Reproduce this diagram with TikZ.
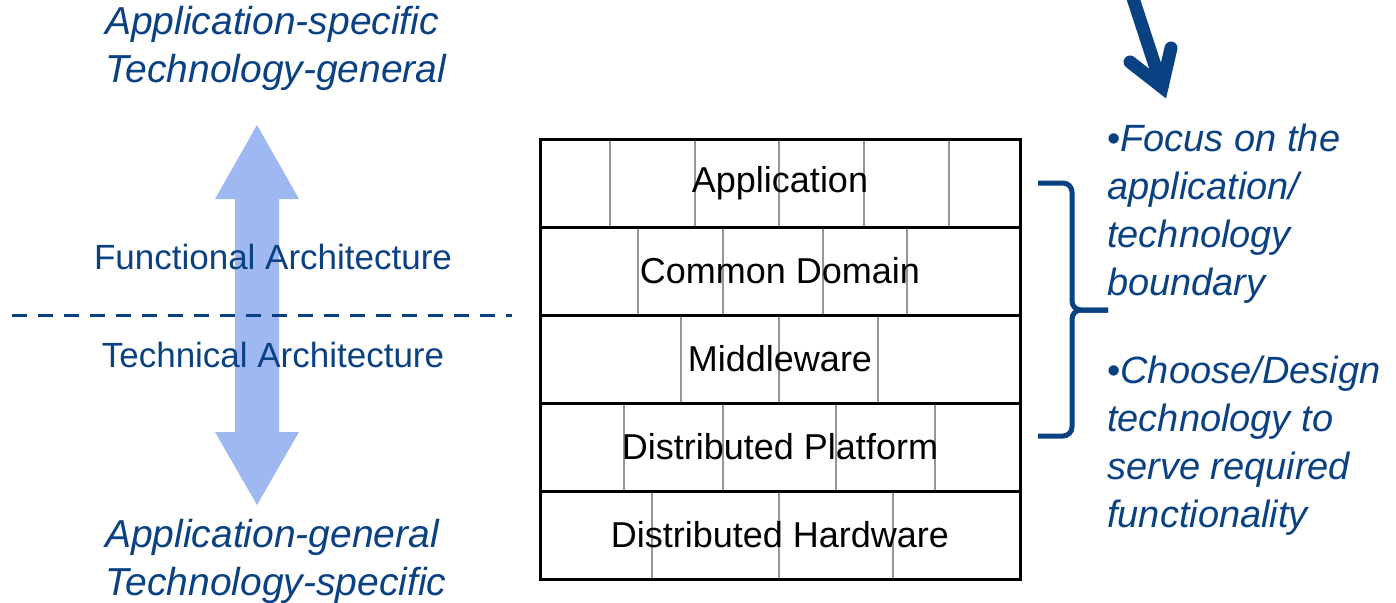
\documentclass[tikz,border=0pt]{standalone}
\usepackage{fontspec}
\setmainfont{Liberation Sans}
\usetikzlibrary{positioning,backgrounds}
\definecolor{archBlue}{RGB}{10,65,130}
\definecolor{archLightBlue}{RGB}{160,184,242}
\definecolor{brickGray}{RGB}{150,150,150}

\begin{document}
\begin{tikzpicture}[x=1pt,y=-1pt,
  layer/.style={draw,line width=3pt,minimum width=480pt,minimum height=88pt,outer sep=0pt,inner sep=0pt,font=\fontsize{36}{36}\selectfont},
  brick/.style={draw=brickGray,line width=2.5pt},
  corner/.style={text=archBlue,inner sep=0pt,align=left,anchor=base west,font=\fontsize{39}{48}\selectfont\itshape},
  arch/.style={text=archBlue,inner sep=0pt,anchor=base,font=\fontsize{35}{35}\selectfont},
  note/.style={text=archBlue,inner sep=0pt,align=left,anchor=base west,font=\fontsize{38}{48}\selectfont\itshape},
  pointer/.style={draw=archBlue,line width=13pt,line cap=round,line join=miter}
]
  \useasboundingbox (0,0) rectangle (1396,602);

  % left side
  \fill[archLightBlue] (257,125) -- (299,199) -- (279,199) -- (279,432) -- (299,432)
    -- (257,505) -- (215,432) -- (235,432) -- (235,199) -- (215,199) -- cycle;
  \node[corner] (top) at (105,82) {Application-specific\\Technology-general};
  \node[corner] (bottom) at (105,595) {Application-general\\Technology-specific};
  \node[arch] (func) at (273,269) {Functional Architecture};
  \node[arch] (tech) at (273,367) {Technical Architecture};
  \coordinate (sepL) at (12,315);
  \coordinate (sepR) at (512,315);
  \draw[archBlue,line width=3pt,dash pattern=on 15pt off 11pt] (sepL) -- (sepR);

  % the wall
  \node[layer] (app) at (780,183) {Application};
  \node[layer,below=0pt of app] (dom) {Common Domain};
  \node[layer,below=0pt of dom] (mid) {Middleware};
  \node[layer,below=0pt of mid] (plat) {Distributed Platform};
  \node[layer,below=0pt of plat] (hw) {Distributed Hardware};
  \begin{scope}[on background layer]
    \foreach \x in {70,155,239,324,409}
      \draw[brick] ([xshift=\x]app.north west) -- ([xshift=\x]app.south west);
    \foreach \x in {98,183,283,367}
      \draw[brick] ([xshift=\x]dom.north west) -- ([xshift=\x]dom.south west);
    \foreach \x in {141,239,338}
      \draw[brick] ([xshift=\x]mid.north west) -- ([xshift=\x]mid.south west);
    \foreach \x in {84,183,296,395}
      \draw[brick] ([xshift=\x]plat.north west) -- ([xshift=\x]plat.south west);
    \foreach \x in {112,239,353}
      \draw[brick] ([xshift=\x]hw.north west) -- ([xshift=\x]hw.south west);
  \end{scope}

  % right side
  \draw[archBlue,line width=5pt,rounded corners=9pt] (1038,183) -- (1072,183) -- (1072,310) -- (1108,310);
  \draw[archBlue,line width=5pt,rounded corners=9pt] (1038,436) -- (1072,436) -- (1072,310) -- (1108,310);
  \node[note] (focus) at (1107,295) {{\upshape\textbullet}Focus on the\\application/\\technology\\boundary};
  \node[note] (choose) at (1107,527) {{\upshape\textbullet}Choose/Design\\technology to\\serve required\\functionality};
  \coordinate (pointerStart) at (1129,-14);
  \coordinate (pointerTip) at (1162,87);
  \draw[pointer] (pointerStart) -- (pointerTip);
  \draw[pointer] (1130,62) -- (pointerTip) -- (1171,48);
\end{tikzpicture}
\end{document}
